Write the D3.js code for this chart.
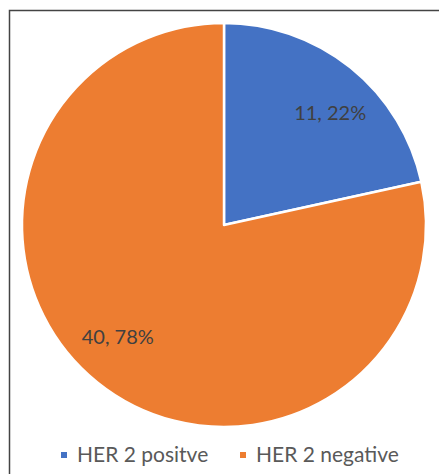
<!DOCTYPE html>
<html>
<head>
<meta charset="utf-8">
<script src="https://cdn.jsdelivr.net/npm/d3@7"></script>
<style>
  body { margin: 0; background: #fff; }
  text { font-family: Lato, "Open Sans", sans-serif; }
</style>
</head>
<body>
<div id="container"></div>
<script>
var categories = ["HER 2 positve", "HER 2 negative"];
var counts = [11, 40];
var percents = ["22%", "78%"];
var colors = ["#4472c4", "#ed7d31"];

(function () {
  var width = 439,
      height = 474;

  var svg = d3.select("#container").append("svg")
    .attr("width", width).attr("height", height);

  // chart frame, only top and left edges are in view
  svg.append("path")
    .attr("d", "M9.5," + height + "V10.5H" + width)
    .attr("fill", "none").attr("stroke", "#444").attr("stroke-width", 1.5);

  var cx = 224, cy = 225, r = 202;

  var data = categories.map(function (c, i) {
    return { name: c, value: counts[i], pct: percents[i], color: colors[i] };
  });

  var pie = d3.pie().sort(null).value(function (d) { return d.value; });
  var arc = d3.arc().innerRadius(0).outerRadius(r);
  var labelArc = d3.arc().innerRadius(154).outerRadius(154);

  var g = svg.append("g").attr("transform", "translate(" + cx + "," + cy + ")");

  var slices = g.selectAll(".slice").data(pie(data)).enter().append("g").attr("class", "slice");

  slices.append("path")
    .attr("d", arc)
    .attr("fill", function (d) { return d.data.color; })
    .attr("stroke", "#fff").attr("stroke-width", 2.5).attr("stroke-linejoin", "round");

  slices.append("text")
    .attr("transform", function (d) {
      var c = labelArc.centroid(d);
      // nudge toward the horizontal like the original label placement
      return "translate(" + [c[0] * 1.1, c[1] * 0.93] + ")";
    })
    .attr("text-anchor", "middle").attr("dy", "0.35em")
    .attr("font-size", 20).attr("fill", "#404040")
    .text(function (d) { return d.data.value + ", " + d.data.pct; });

  // legend
  var legendX = [61, 240];
  var legend = svg.selectAll(".legend").data(data).enter().append("g")
    .attr("class", "legend")
    .attr("transform", function (d, i) { return "translate(" + legendX[i] + ",455)"; });

  legend.append("rect").attr("x", 0).attr("y", -3).attr("width", 6).attr("height", 6)
    .attr("fill", function (d) { return d.color; });

  legend.append("text").attr("x", 16).attr("dy", "0.33em")
    .attr("font-size", 21).attr("fill", "#595959")
    .text(function (d) { return d.name; });
})();
</script>
</body>
</html>
